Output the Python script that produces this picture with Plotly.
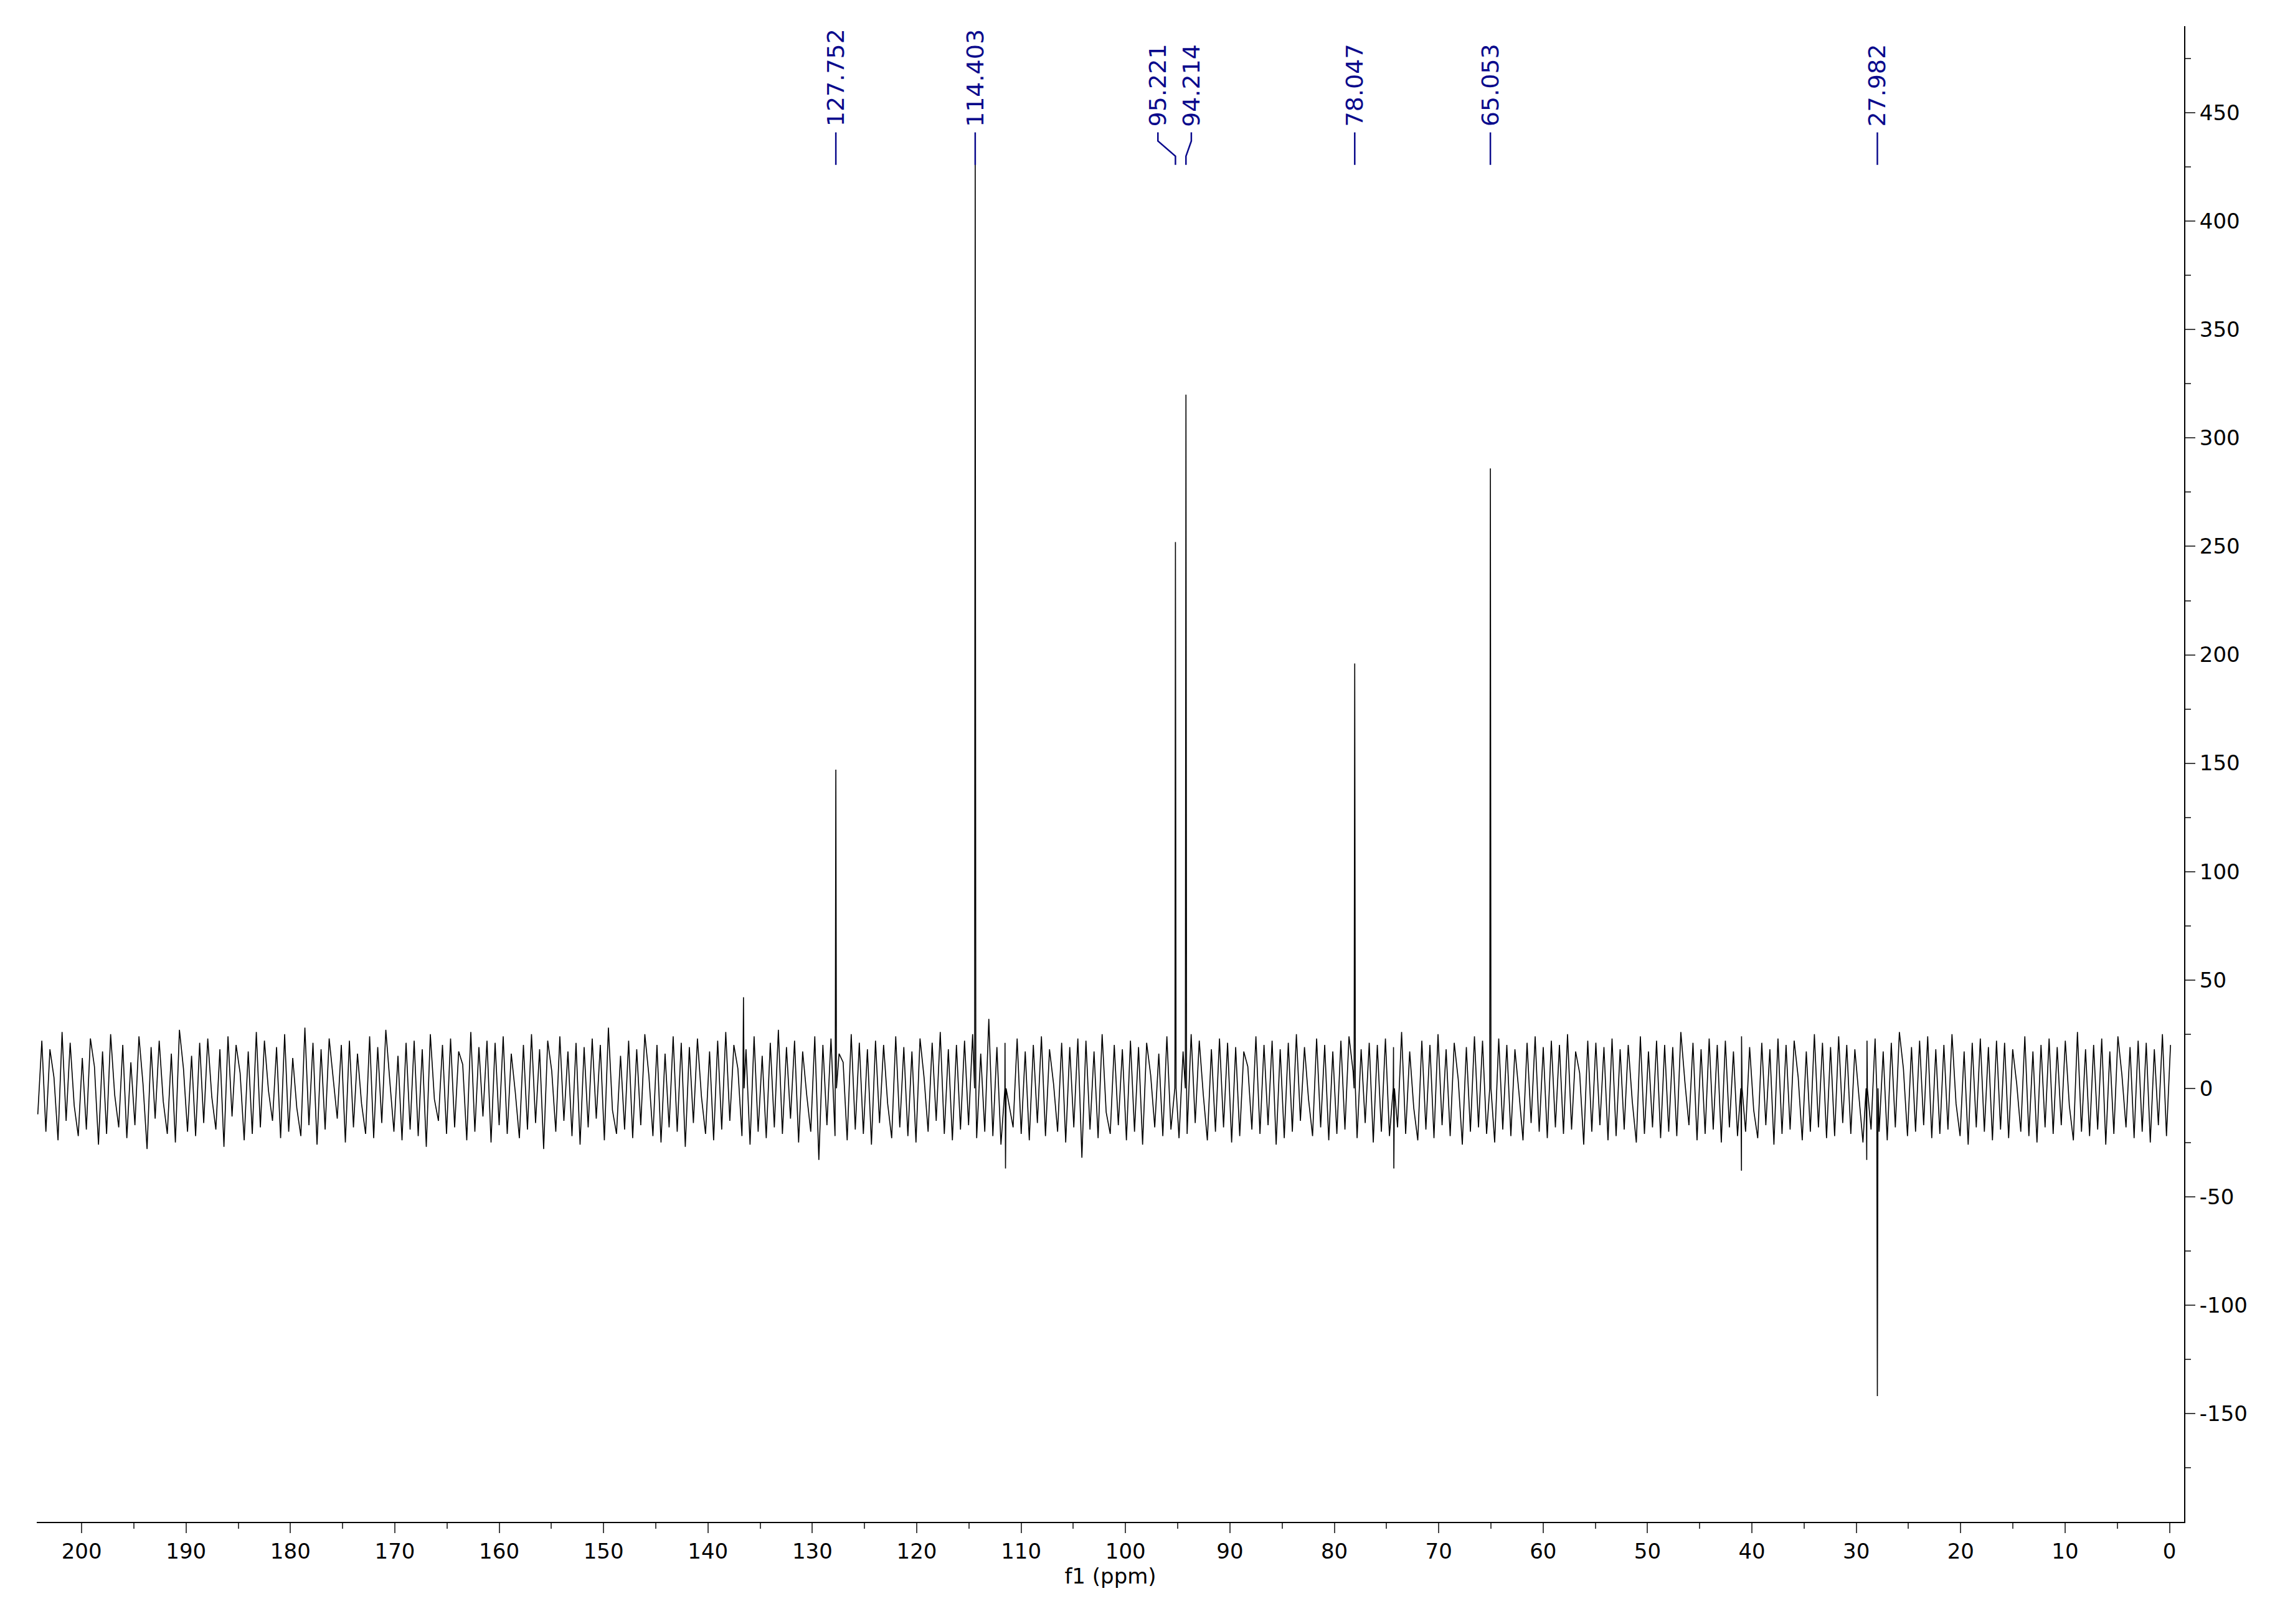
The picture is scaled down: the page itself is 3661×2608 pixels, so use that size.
import numpy as np
import plotly.graph_objects as go

# noise baseline samples (read approximately), spread evenly from 204 to 0 ppm
noise = [-12,22,-20,18,5,-24,26,-15,21,-8,-22,14,-19,23,10,-26,17,-21,25,-3,-18,20,-23,12,
 -17,24,2,-28,19,-14,22,-6,-21,16,-25,27,9,-20,15,-22,21,-16,23,-4,-19,18,-27,24,
 -13,20,7,-24,17,-21,26,-18,22,-1,-15,19,-23,25,-20,14,-9,-22,28,-17,21,-26,18,
 -19,23,4,-14,20,-25,22,-18,16,-7,-21,24,-23,19,-16,27,3,-20,15,-24,21,-19,22,
 -22,18,-27,25,-5,-15,20,-21,23,-18,17,11,-24,26,-20,19,-13,22,-25,21,-17,24,
 -21,16,-2,-23,20,-19,25,-16,18,-28,22,8,-20,24,-15,17,-22,21,-26,19,-18,23,
 -14,20,-24,28,-10,-21,15,-19,22,-23,18,-17,25,6,-22,20,-25,16,-18,24,-20,21,
 -27,19,-16,23,-4,-21,17,-24,22,-19,26,-15,20,9,-22,18,-26,24,-20,15,-23,21,
 -18,27,-21,19,-14,22,-25,17,-3,-20,24,-33,20,-17,23,-22,16,12,-24,25,-19,21,
 -21,18,-26,22,-16,20,-7,-23,24,-18,19,-22,17,-25,23,5,-20,21,-15,26,-21,18,
 -24,20,-19,22,-17,25,-23,16,-20,32,-22,19,-26,21,-8,-18,23,-21,17,-24,20,
 -16,24,-22,18,2,-20,21,-25,19,-18,23,-32,22,-19,17,-23,25,-11,-21,20,-17,18,
 -24,22,-20,19,-26,21,6,-18,16,-22,24,-19,20,-23,17,-21,25,-16,22,-3,-24,18,
 -20,23,-18,21,-25,19,-22,17,10,-19,24,-21,20,-17,22,-26,18,-23,21,-20,25,
 -15,19,-5,-22,23,-18,20,-24,17,-21,22,-19,24,8,-23,18,-16,21,-25,20,-20,23,
 -22,19,-18,26,-21,17,-9,-24,22,-19,20,-23,25,-17,18,-22,21,4,-26,19,-20,24,
 -18,22,-21,17,-25,23,-19,20,-22,18,-2,-24,21,-16,24,-20,19,-23,22,-18,20,
 -21,25,-19,17,7,-26,22,-20,21,-17,19,-24,23,-22,18,-19,20,-6,-25,24,-21,17,
 -18,22,-23,20,-20,19,-22,26,3,-17,21,-24,18,-21,23,-19,20,-25,22,-18,17,
 -22,24,-20,19,-10,-23,21,-17,18,-26,23,-21,20,-19,22,5,-24,17,-20,25,-18,21,
 -23,19,-22,24,-16,20,-21,18,-4,-25,22,-19,23,-20,17,-24,21,-18,26,9,-22,19,
 -20,22,-17,24,-23,18,-21,20,-19,25,-7,-22,17,-26,21,-18,23,-20,19,-24,22,
 -19,21,-23,18,2,-20,24,-22,17,-25,20,-18,23,-21,19,-17,22,-8,-24,26,-20,18,
 -22,20,-19,23,-26,17,-21,24,6,-18,19,-23,22,-20,21,-25,18,-17,25,-22,20]

# peaks: position (ppm) and height
peak_ppm = [136.6, 127.752, 114.403, 95.221, 94.214, 78.047, 65.053, 27.982, 41.0, 74.3, 111.5, 29.0]
peak_int = [42, 147, 435, 252, 320, 196, 286, -142, -38, -37, -37, -33]

labels = ["127.752", "114.403", "95.221", "94.214", "78.047", "65.053", "27.982"]
label_ppm = [127.752, 114.403, 95.221, 94.214, 78.047, 65.053, 27.982]
label_text_ppm = [127.752, 114.403, 96.9, 93.7, 78.047, 65.053, 27.982]

ytick_vals = list(range(-150, 451, 50))
ytick_text = [str(v).replace("\u2212", "-") for v in ytick_vals]

x_noise = np.linspace(204.2, -0.1, len(noise))
pts = list(zip(x_noise, noise))
for p, h in zip(peak_ppm, peak_int):
    pts += [(p + 0.06, 0), (p, h), (p - 0.06, 0)]
pts.sort(key=lambda t: -t[0])
xs = [p[0] for p in pts]
ys = [p[1] for p in pts]

navy = "#0A0A8C"
fig = go.Figure()
fig.add_trace(go.Scatter(x=xs, y=ys, mode="lines", line=dict(color="black", width=1.6),
                         showlegend=False, hoverinfo="skip"))

for lab, p, tp in zip(labels, label_ppm, label_text_ppm):
    if abs(tp - p) < 0.01:
        fig.add_shape(type="line", x0=p, x1=p, y0=426, y1=441, line=dict(color=navy, width=2.5))
    else:
        fig.add_shape(type="path", path=f"M {p},426 L {p},430 L {tp},437 L {tp},441",
                      line=dict(color=navy, width=2.5))
    fig.add_annotation(x=tp, y=443, text=lab, textangle=-90, showarrow=False,
                       xanchor="center", yanchor="bottom",
                       font=dict(color=navy, size=38, family="DejaVu Sans"))

fig.update_layout(
    width=3661, height=2608, paper_bgcolor="white", plot_bgcolor="white",
    margin=dict(l=51, r=162, t=34, b=172),
    font=dict(family="DejaVu Sans", size=34, color="black"),
    xaxis=dict(range=[204.3, -1.4], tickvals=list(range(0, 201, 10)),
               ticks="outside", ticklen=16, tickwidth=2, showline=True, linewidth=2,
               linecolor="black", showgrid=False, zeroline=False,
               minor=dict(tickvals=list(range(5, 205, 10)), ticks="outside", ticklen=9, tickwidth=2),
               title=dict(text="f1 (ppm)", standoff=4, font=dict(size=34))),
    yaxis=dict(range=[-200, 490], side="right", tickvals=ytick_vals, ticktext=ytick_text,
               ticks="outside", ticklen=16, tickwidth=2, showline=True, linewidth=2,
               linecolor="black", showgrid=False, zeroline=False,
               minor=dict(tickvals=list(range(-175, 490, 50)), ticks="outside", ticklen=9, tickwidth=2)),
)
fig.write_html("out.html")
